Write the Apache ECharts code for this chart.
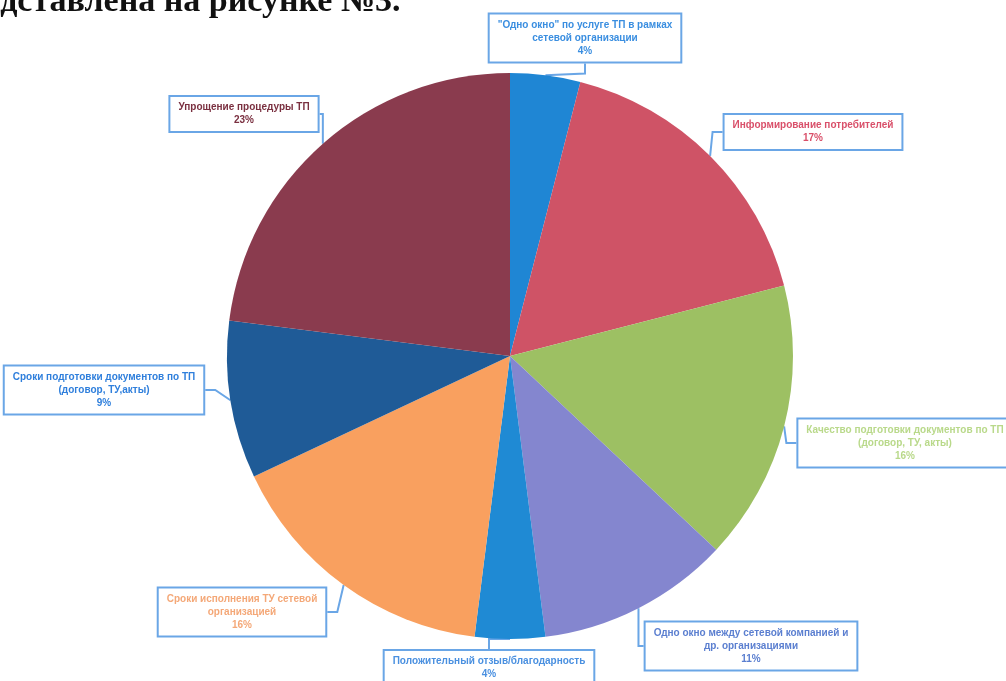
<!DOCTYPE html>
<html>
<head>
<meta charset="utf-8">
<script src="https://cdn.jsdelivr.net/npm/echarts@6/dist/echarts.min.js"></script>
<style>html,body{margin:0;padding:0;background:#fff}#c{width:1006px;height:681px}</style>
</head>
<body>
<div id="c"></div>
<script>
const categories = [
  '"Одно окно" по услуге ТП в рамках\nсетевой организации',
  'Информирование потребителей',
  'Качество подготовки документов по ТП\n(договор, ТУ, акты)',
  'Одно окно между сетевой компанией и\nдр. организациями',
  'Положительный отзыв/благодарность',
  'Сроки исполнения ТУ сетевой\nорганизацией',
  'Сроки подготовки документов по ТП\n(договор, ТУ,акты)',
  'Упрощение процедуры ТП'
];
const values = [4, 17, 16, 11, 4, 16, 9, 23];
const colors = ['#1f86d4', '#cf5366', '#9dc063', '#8486cf', '#1f8ad4', '#f9a05f', '#1f5b97', '#8a3b4e'];
const labelColors = ['#3a8ee0', '#d9506a', '#b9d98a', '#5b7fd0', '#4a90e0', '#f4a878', '#2f7fdc', '#7a3040'];
const labelPos = [[585, 38], [813, 132], [905, 443], [751, 646], [489, 668], [242, 612], [104, 390], [244, 114]];

const chart = echarts.init(document.getElementById('c'));
chart.setOption({
  animation: false,
  graphic: [{
    type: 'text', left: -53, top: -15,
    style: { text: 'представлена на рисунке №3.', font: 'bold 34px "Liberation Serif", serif', fill: '#111' }
  }],
  series: [{
    type: 'pie',
    center: [510, 356],
    radius: 283,
    startAngle: 90,
    clockwise: true,
    avoidLabelOverlap: false,
    data: categories.map((n, i) => ({
      name: n, value: values[i],
      itemStyle: { color: colors[i] },
      label: { color: labelColors[i] }
    })),
    label: {
      show: true,
      position: 'outside',
      formatter: '{b}\n{d}%',
      fontFamily: '"Liberation Sans Narrow", "Liberation Sans", sans-serif',
      fontWeight: 'bold',
      fontSize: 10,
      lineHeight: 13,
      align: 'center',
      backgroundColor: '#fff',
      borderColor: '#6aa6e6',
      borderWidth: 2,
      padding: [4, 8]
    },
    labelLine: { show: true, length: 10, length2: 10, lineStyle: { color: '#6aa6e6', width: 2 } },
    labelLayout: function (p) {
      const pos = labelPos[p.dataIndex];
      return { x: pos[0], y: pos[1], align: 'center', verticalAlign: 'middle' };
    }
  }]
});
</script>
</body>
</html>
